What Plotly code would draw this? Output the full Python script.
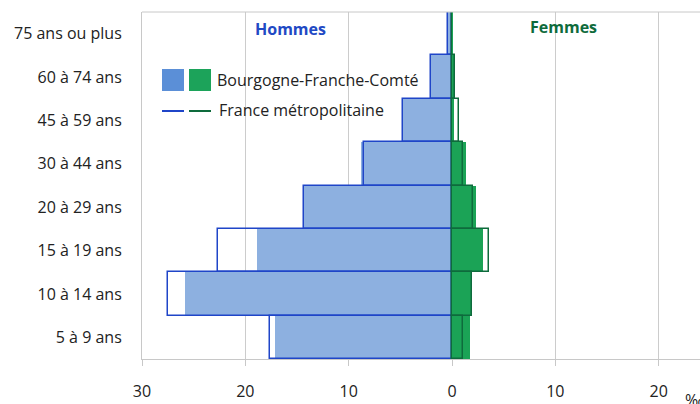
import plotly.graph_objects as go

# Categories bottom -> top
ages = ["5 à 9 ans", "10 à 14 ans", "15 à 19 ans", "20 à 29 ans",
        "30 à 44 ans", "45 à 59 ans", "60 à 74 ans", "75 ans ou plus"]

# Values in per mille (‰)
bfc_hommes = [17.1, 25.8, 18.9, 14.45, 8.8, 4.77, 2.08, 0.52]
bfc_femmes = [1.74, 1.97, 3.03, 2.29, 1.32, 0.2, 0.25, 0.05]
fra_hommes = [17.6, 27.5, 22.6, 14.3, 8.5, 4.75, 2.08, 0.4]
fra_femmes = [1.1, 1.97, 3.55, 2.03, 1.03, 0.65, 0.25, 0.03]

tick_vals = [-30, -20, -10, 0, 10, 20]
tick_text = ["30", "20", "10", "0", "10", "20"]

BLUE_FILL = "#8db0e0"
GREEN_FILL = "#1ba356"
BLUE_LINE = "#1f45c8"
GREEN_LINE = "#0e6b3c"
LEG_BLUE = "#5b8fd7"
LEG_GREEN = "#1ca35a"
FONT = "Open Sans"
FS = 16

fig = go.Figure()
fig.add_trace(go.Bar(y=ages, x=[-v for v in bfc_hommes], orientation="h",
                     marker=dict(color=BLUE_FILL, line=dict(width=0)),
                     name="Bourgogne-Franche-Comté"))
fig.add_trace(go.Bar(y=ages, x=bfc_femmes, orientation="h",
                     marker=dict(color=GREEN_FILL, line=dict(width=0)),
                     name="Bourgogne-Franche-Comté"))
fig.add_trace(go.Bar(y=ages, x=[-v for v in fra_hommes], orientation="h",
                     marker=dict(color="rgba(0,0,0,0)",
                                 line=dict(color=BLUE_LINE, width=1.5)),
                     name="France métropolitaine"))
fig.add_trace(go.Bar(y=ages, x=fra_femmes, orientation="h",
                     marker=dict(color="rgba(0,0,0,0)",
                                 line=dict(color=GREEN_LINE, width=1.5)),
                     name="France métropolitaine"))

W, H = 700, 404
L, R, T, B = 142, 0, 12, 45
pw, ph = W - L - R, H - T - B


def px(x):
    return (x - L) / pw


def py(y):
    return (H - B - y) / ph


shapes = [
    dict(type="line", xref="paper", yref="paper", x0=0, x1=1, y0=1, y1=1,
         line=dict(color="#c8c8c8", width=1)),
    dict(type="rect", xref="paper", yref="paper", x0=px(162), x1=px(184),
         y0=py(91), y1=py(69), fillcolor=LEG_BLUE, line=dict(width=0)),
    dict(type="rect", xref="paper", yref="paper", x0=px(189), x1=px(211),
         y0=py(91), y1=py(69), fillcolor=LEG_GREEN, line=dict(width=0)),
    dict(type="line", xref="paper", yref="paper", x0=px(162), x1=px(184),
         y0=py(111), y1=py(111), line=dict(color=BLUE_LINE, width=2)),
    dict(type="line", xref="paper", yref="paper", x0=px(189), x1=px(211),
         y0=py(111), y1=py(111), line=dict(color=GREEN_LINE, width=2)),
]

annotations = [
    dict(text="<b>Hommes</b>", xref="paper", yref="paper", x=px(290), y=py(29),
         showarrow=False, xanchor="center", yanchor="middle",
         font=dict(family=FONT, size=FS, color="#2149c4")),
    dict(text="<b>Femmes</b>", xref="paper", yref="paper", x=px(563), y=py(27),
         showarrow=False, xanchor="center", yanchor="middle",
         font=dict(family=FONT, size=FS, color=GREEN_LINE)),
    dict(text="Bourgogne-Franche-Comté", xref="paper", yref="paper",
         x=px(215), y=py(80), showarrow=False, xanchor="left", yanchor="middle",
         font=dict(family=FONT, size=FS, color="#222222")),
    dict(text="France métropolitaine", xref="paper", yref="paper",
         x=px(217), y=py(110), showarrow=False, xanchor="left", yanchor="middle",
         font=dict(family=FONT, size=FS, color="#222222")),
    dict(text="‰", xref="paper", yref="paper", x=px(683), y=py(400),
         showarrow=False, xanchor="left", yanchor="middle",
         font=dict(family=FONT, size=FS, color="#222222")),
]

fig.update_layout(
    width=W, height=H,
    margin=dict(l=L, r=R, t=T, b=B, pad=0),
    barmode="overlay", bargap=0,
    showlegend=False,
    plot_bgcolor="white", paper_bgcolor="white",
    font=dict(family=FONT, size=FS, color="#222222"),
    shapes=shapes, annotations=annotations,
    xaxis=dict(range=[-30, 24.0], tickvals=tick_vals, ticktext=tick_text,
               showgrid=True, gridcolor="#cccccc", gridwidth=1,
               zeroline=False, showline=True, linecolor="#c8c8c8", linewidth=1,
               ticks="outside", ticklen=6, tickcolor="#c8c8c8",
               ticklabelstandoff=12,
               tickfont=dict(family=FONT, size=FS, color="#222222")),
    yaxis=dict(categoryorder="array", categoryarray=ages,
               showgrid=False, zeroline=False, showline=True,
               linecolor="#c8c8c8", linewidth=1, ticks="",
               ticklabelstandoff=16,
               tickfont=dict(family=FONT, size=FS, color="#222222")),
)

fig.write_html("out.html",
               config={"displayModeBar": False},
               post_script="document.body.style.margin='0';"
                           "document.body.style.overflow='hidden';")
